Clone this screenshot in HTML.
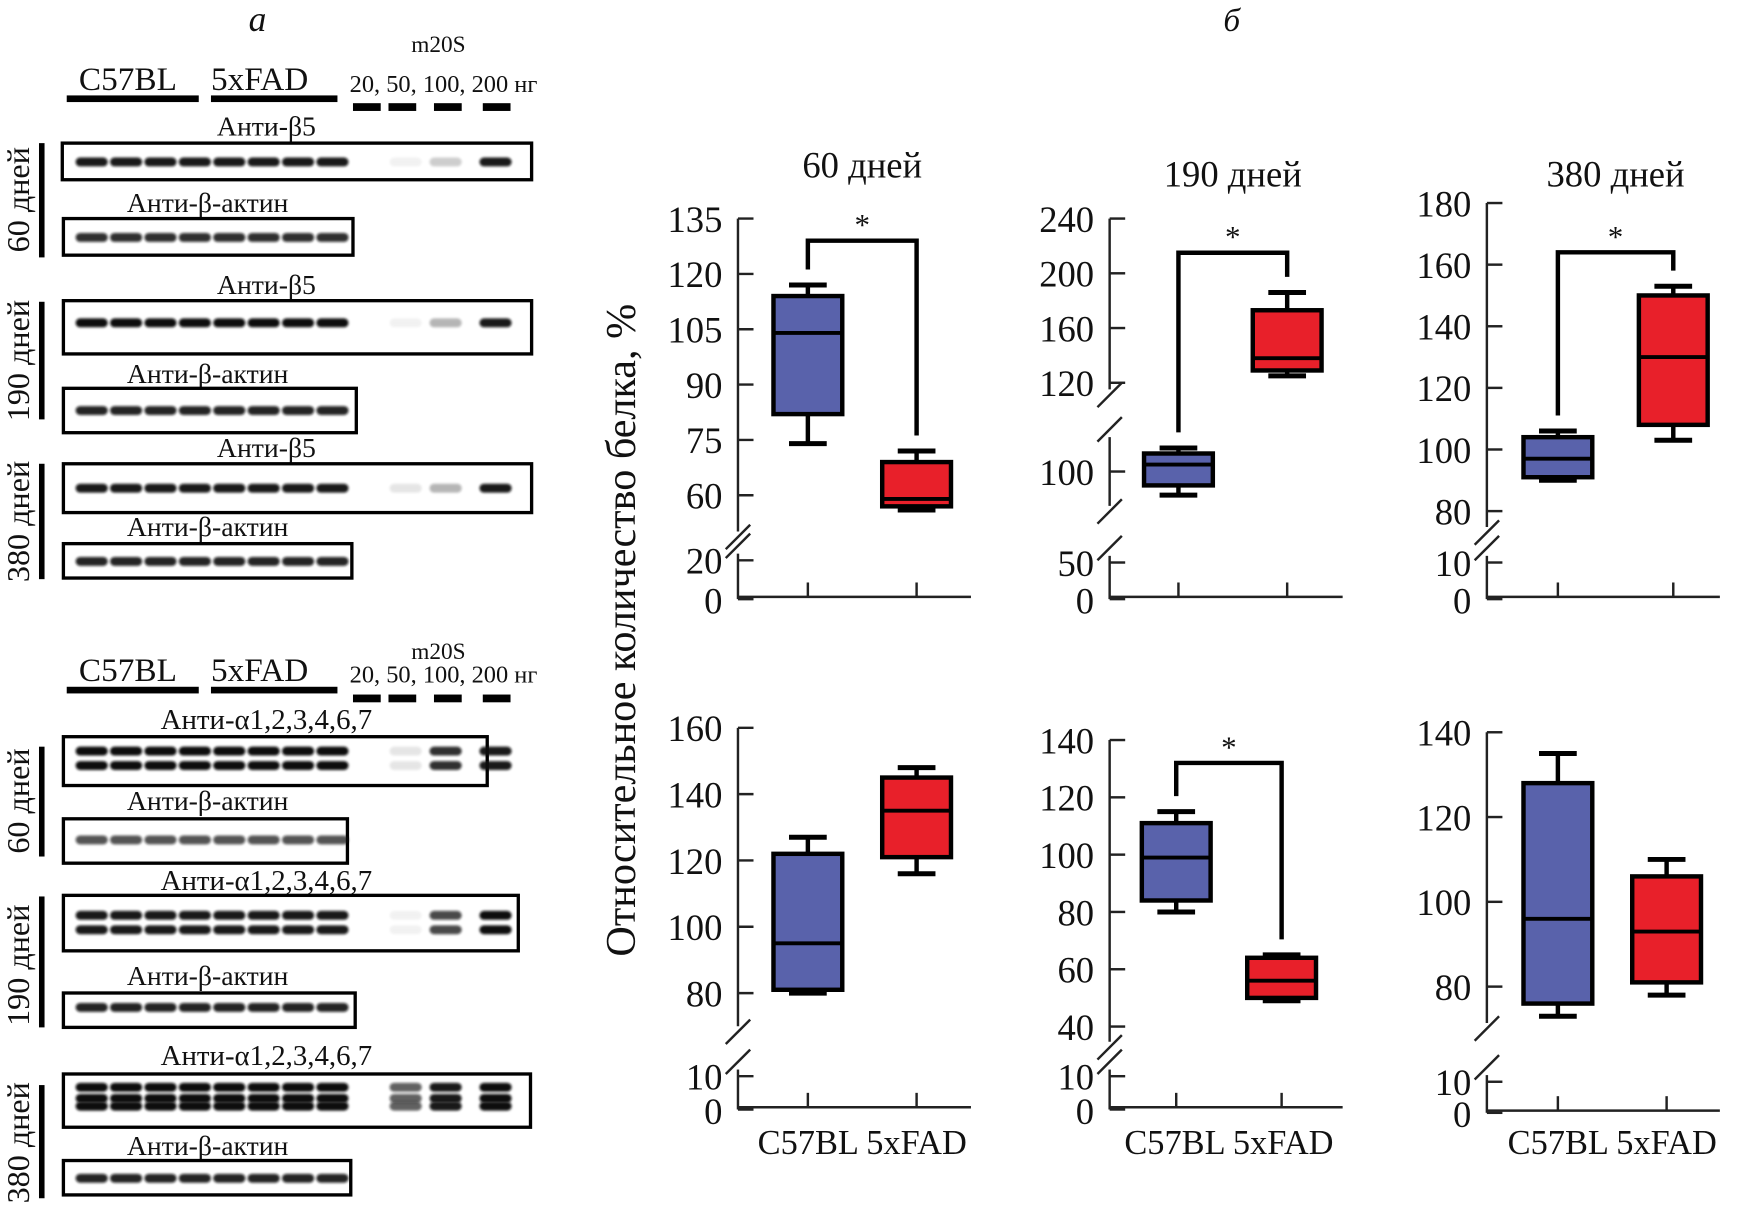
<!DOCTYPE html>
<html><head><meta charset="utf-8"><style>
html,body{margin:0;padding:0;background:#fff;}
svg{display:block;}
text{font-family:"Liberation Serif",serif;fill:#111;}
</style></head><body>
<svg id="fig" width="1740" height="1216" viewBox="0 0 1568 1096" xmlns="http://www.w3.org/2000/svg">
<defs><filter id="bl" x="-20%" y="-100%" width="140%" height="300%"><feGaussianBlur stdDeviation="1.2"/></filter></defs>
<g id="blots"></g>
<g id="charts"></g>
</svg>
<script>
// ---------- chart data ----------
const panelTitles = ["60 дней","190 дней","380 дней","","",""];
const groups = ["C57BL","5xFAD"];
// [min, q1, median, q3, max]
const c57Stats = [[74,82,104,114,117],[83,90,105,113,117],[90,91,97,104,106],[80,81,95,122,127],[80,84,99,111,115],[73,76,96,128,135]];
const fadStats = [[56,57,59,69,72],[125,129,138,173,186],[103,108,130,150,153],[116,121,135,145,148],[49,50,56,64,65],[78,81,93,106,110]];
const sigTop = [129,215,164,null,132,null];
const tickLabels = [
 [0,20,60,75,90,105,120,135],
 [0,50,100,120,160,200,240],
 [0,10,80,100,120,140,160,180],
 [0,10,80,100,120,140,160],
 [0,10,40,60,80,100,120,140],
 [0,10,80,100,120,140]];
// axis segments (value range -> pixel range) per panel
const segs = [
 [{v0:0,v1:20,y0:540,y1:505},{v0:52,v1:135,y0:473,y1:197}],
 [{v0:0,v1:50,y0:540,y1:507},{v0:80,v1:120,y0:450,y1:400},{v0:120,v1:240,y0:345,y1:197}],
 [{v0:0,v1:10,y0:540,y1:507},{v0:77,v1:180,y0:469,y1:183}],
 [{v0:0,v1:10,y0:1000,y1:970},{v0:72,v1:160,y0:919,y1:656}],
 [{v0:0,v1:10,y0:1000,y1:970},{v0:37,v1:140,y0:933,y1:667}],
 [{v0:0,v1:10,y0:1003,y1:975},{v0:73,v1:140,y0:916,y1:660}]];
const axisX = [665,1000,1340,665,1000,1340];
const axisTop = [197,197,183,656,667,660];
const axisBottom = [540,540,540,1000,1000,1003];
const groupX = [[728,826],[1062,1160],[1404,1508],[728,826],[1060,1155],[1404,1502]];

const NS="http://www.w3.org/2000/svg";
function mk(parent,tag,attrs,txt){const e=document.createElementNS(NS,tag);for(const k in attrs)e.setAttribute(k,attrs[k]);if(txt!==undefined)e.textContent=txt;parent.appendChild(e);return e;}
function yScale(p,v){const S=segs[p];let s=null;for(const g of S){if(v>=g.v0&&v<=g.v1){s=g;}}
  if(!s){s=S[S.length-1];for(let i=0;i<S.length;i++){if(v<S[i].v0){s=S[Math.max(0,i-1)];if(i>0&&v>S[i-1].v1)s=S[i];break;}}}
  return s.y0+(v-s.v0)*(s.y1-s.y0)/(s.v1-s.v0);}
function segY(s,v){return s.y0+(v-s.v0)*(s.y1-s.y0)/(s.v1-s.v0);}

const charts=document.getElementById('charts');
for(let p=0;p<6;p++){
  const g=mk(charts,'g',{});
  
  
  const ax=axisX[p];
  if(panelTitles[p]){const t=mk(g,'text',{x:groupX[p][0]/2+groupX[p][1]/2,y:p==0?160:168,'font-size':33,'text-anchor':'middle'},panelTitles[p]);
    }
  const S=segs[p];
  for(let i=0;i<S.length;i++){
    const ya=segY(S[i],S[i].v0), yb=segY(S[i],S[i].v1);
    const l=mk(g,'line',{x1:ax,x2:ax,y1:(i==0?axisBottom[p]:ya+6),y2:(i==S.length-1?axisTop[p]:yb-6),stroke:'#222','stroke-width':2.2});
    
    if(i<S.length-1){
      const b1=yb-6, b2=segY(S[i+1],S[i+1].v0)+6;
      const s1=mk(g,'line',{x1:ax-11,y1:b1+4,x2:ax+11,y2:b1-18,stroke:'#222','stroke-width':2.2});
      
      const s2=mk(g,'line',{x1:ax-11,y1:b2+16,x2:ax+11,y2:b2-6,stroke:'#222','stroke-width':2.2});
      
    }
  }
  const xa=mk(g,'line',{x1:ax,x2:ax+210,y1:axisBottom[p]-2,y2:axisBottom[p]-2,stroke:'#222','stroke-width':2.2});
  
  for(const gx of groupX[p]){const t=mk(g,'line',{x1:gx,x2:gx,y1:axisBottom[p]-2,y2:axisBottom[p]-15,stroke:'#222','stroke-width':2.2});
    }
  for(const v of tickLabels[p]){const y=yScale(p,v);
    const tk=mk(g,'line',{x1:ax,x2:ax+14,y1:y,y2:y,stroke:'#222','stroke-width':2.2});
    
    const tl=mk(g,'text',{x:ax-14,y:(v==0?y+13:y+12),'font-size':33,'text-anchor':'end'},String(v));
    }
  const stats=[c57Stats[p],fadStats[p]];const fills=['#5962ab','#e8202a'];
  for(let k=0;k<2;k++){const s=stats[k];const cx=groupX[p][k];const w=31;
    const bg=mk(g,'g',{});
    const yMin=yScale(p,s[0]),yQ1=yScale(p,s[1]),yMed=yScale(p,s[2]),yQ3=yScale(p,s[3]),yMax=yScale(p,s[4]);
    mk(bg,'line',{x1:cx,x2:cx,y1:yMax,y2:yQ3,stroke:'#000','stroke-width':4});
    mk(bg,'line',{x1:cx,x2:cx,y1:yQ1,y2:yMin,stroke:'#000','stroke-width':4});
    mk(bg,'line',{x1:cx-17,x2:cx+17,y1:yMax,y2:yMax,stroke:'#000','stroke-width':4.5});
    mk(bg,'line',{x1:cx-17,x2:cx+17,y1:yMin,y2:yMin,stroke:'#000','stroke-width':4.5});
    mk(bg,'rect',{x:cx-w,y:yQ3,width:2*w,height:Math.max(1,yQ1-yQ3),fill:fills[k],stroke:'#000','stroke-width':4});
    mk(bg,'line',{x1:cx-w,x2:cx+w,y1:yMed,y2:yMed,stroke:'#000','stroke-width':3.5});
  }
  if(sigTop[p]!==null){const yT=yScale(p,sigTop[p]);
    const l=yScale(p,c57Stats[p][4])-14, r=yScale(p,fadStats[p][4])-14;
    const br=mk(g,'polyline',{points:`${groupX[p][0]},${l} ${groupX[p][0]},${yT} ${groupX[p][1]},${yT} ${groupX[p][1]},${r}`,fill:'none',stroke:'#000','stroke-width':4});
    
    const st=mk(g,'text',{x:(groupX[p][0]+groupX[p][1])/2,y:yT-5,'font-size':28,'text-anchor':'middle'},'*');
    }
  if(p>=3){const xl=mk(g,'text',{x:(groupX[p][0]+groupX[p][1])/2,y:1040,'font-size':31,'text-anchor':'middle'},groups.join(' '));
    }
}
const yt=mk(charts,'text',{x:0,y:0,'font-size':38,'text-anchor':'middle',transform:'translate(572,568) rotate(-90)'},'Относительное количество белка, %');

const tb=mk(charts,'text',{x:1110,y:28,'font-size':30,'font-style':'italic','text-anchor':'middle'},'б');


// ---------- blots (illustration) ----------
const blots=document.getElementById('blots');
const ta=mk(blots,'text',{x:232,y:28,'font-size':32,'font-style':'italic','text-anchor':'middle'},'а');

function header(y,top){
  const h=mk(blots,'g',{});
  mk(h,'text',{x:71,y:y,'font-size':30},'C57BL');mk(h,'text',{x:190,y:y,'font-size':30},'5xFAD');
  mk(h,'rect',{x:60,y:y+5,width:119,height:6,fill:'#000'});mk(h,'rect',{x:190,y:y+5,width:114,height:6,fill:'#000'});
  mk(h,'text',{x:395,y:top?47:594,'font-size':21,'text-anchor':'middle'},'m20S');
  mk(h,'text',{x:315,y:y+(top?2:1),'font-size':22},'20, 50, 100, 200 нг');
  for(const x of [318,350,391,435])mk(h,'rect',{x:x,y:y+12,width:25,height:7,fill:'#000'});
}
header(81,true);header(614,false);
const laneX=[82,113,144,175,206,237,268,299];
const m20X=[333,365,401,446];
function blot(name,label,ly,x0,x1,y0,y1,bandYs,inten,m20){
  const b=mk(blots,'g',{});
  const isA=label.indexOf('α')>0, isAct=label.indexOf('актин')>0;
  mk(b,'text',{x:(isAct?187:240),y:ly,'font-size':(isA?26:25),'text-anchor':'middle'},label);
  mk(b,'rect',{x:x0,y:y0,width:x1-x0,height:y1-y0,fill:'#fff',stroke:'#000','stroke-width':3});
  for(const by of bandYs){for(const lx of laneX)mk(b,'rect',{x:lx-14,y:by-4,width:29,height:8,rx:4,fill:'#111',opacity:inten,filter:'url(#bl)'});
    if(m20)m20.forEach((o,i)=>{if(o>0)mk(b,'rect',{x:m20X[i]-14,y:by-4,width:29,height:8,rx:4,fill:'#111',opacity:o,filter:'url(#bl)'});});}
}
function bar(y0,y1,lab,cy){const g=mk(blots,'g',{});
  mk(g,'rect',{x:35,y:y0,width:5,height:y1-y0,fill:'#000'});
  mk(g,'text',{x:0,y:0,'font-size':29,'text-anchor':'middle',transform:`translate(26,${cy}) rotate(-90)`},lab);}
blot('blot-b5-60','Анти-β5',122,56,479,129,162,[146],0.95,[0,0.05,0.2,0.95]);
blot('blot-actin-60','Анти-β-актин',191,57,318,197,230,[214],0.85,null);
bar(129,232,'60 дней',180);
blot('blot-b5-190','Анти-β5',265,57,479,271,319,[291],1,[0,0.05,0.3,0.95]);
blot('blot-actin-190','Анти-β-актин',345,57,321,350,390,[370],0.9,null);
bar(272,378,'190 дней',325);
blot('blot-b5-380','Анти-β5',412,57,479,418,462,[440],0.95,[0,0.1,0.3,0.95]);
blot('blot-actin-380','Анти-β-актин',483,57,317,490,521,[506],0.9,null);
bar(418,522,'380 дней',470);
blot('blot-a-60','Анти-α1,2,3,4,6,7',657,57,439,664,708,[677,690],1,[0,0.1,0.85,0.95]);
blot('blot-actin2-60','Анти-β-актин',730,57,313,738,778,[757],0.7,null);
bar(673,772,'60 дней',722);
blot('blot-a-190','Анти-α1,2,3,4,6,7',802,57,467,807,857,[825,838],0.95,[0,0.05,0.75,1]);
blot('blot-actin2-190','Анти-β-актин',888,57,320,895,926,[908],0.9,null);
bar(808,926,'190 дней',870);
blot('blot-a-380','Анти-α1,2,3,4,6,7',960,57,478,968,1016,[980,990,997],1,[0,0.65,0.95,1]);
blot('blot-actin2-380','Анти-β-актин',1041,57,316,1046,1077,[1062],0.9,null);
bar(978,1080,'380 дней',1030);
</script>
</body></html>
